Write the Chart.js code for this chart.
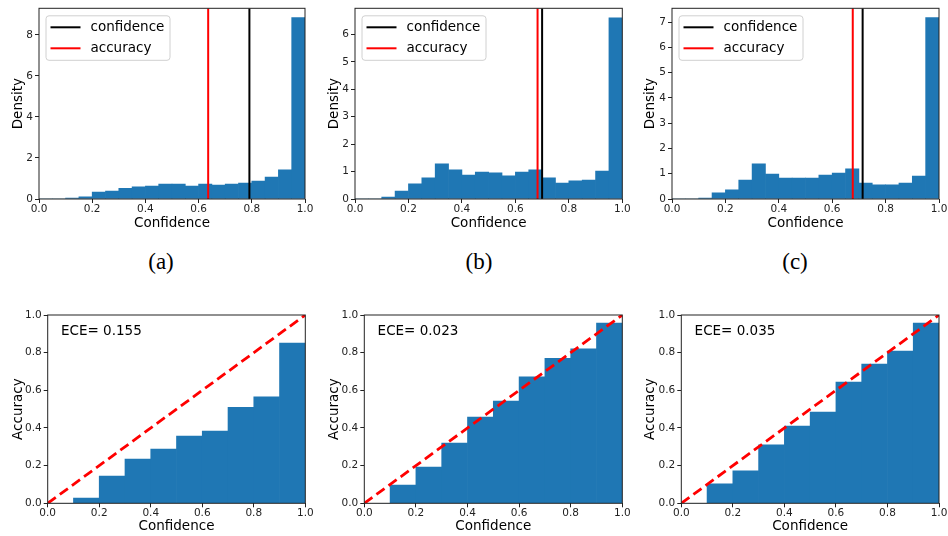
<!DOCTYPE html>
<html>
<head>
<meta charset="utf-8">
<script src="https://cdn.jsdelivr.net/npm/chart.js@4.4.1/dist/chart.umd.min.js"></script>
<style>
  body { margin: 0; background: #fff; width: 948px; height: 536px; position: relative; overflow: hidden; }
  canvas { position: absolute; }
  .cap { position: absolute; top: 249px; width: 60px; margin-left: -30px; text-align: center;
         font-family: "Liberation Serif", serif; font-size: 23px; line-height: 26px; color: #000; }
</style>
</head>
<body>
<canvas id="h0" width="316" height="240" style="left:0;top:0"></canvas>
<canvas id="h1" width="316" height="240" style="left:316px;top:0"></canvas>
<canvas id="h2" width="316" height="240" style="left:632px;top:0"></canvas>
<canvas id="r0" width="316" height="236" style="left:0;top:300px"></canvas>
<canvas id="r1" width="316" height="236" style="left:316px;top:300px"></canvas>
<canvas id="r2" width="316" height="236" style="left:632px;top:300px"></canvas>
<div class="cap" style="left:161px">(a)</div>
<div class="cap" style="left:479px">(b)</div>
<div class="cap" style="left:795px">(c)</div>
<script>
// histogram bins (width 0.05), given by their centres
const histCenters = [0.025, 0.075, 0.125, 0.175, 0.225, 0.275, 0.325, 0.375, 0.425, 0.475,
                     0.525, 0.575, 0.625, 0.675, 0.725, 0.775, 0.825, 0.875, 0.925, 0.975];
const densityA = [0, 0, 0.05, 0.1, 0.34, 0.39, 0.52, 0.59, 0.63, 0.73, 0.73, 0.63, 0.73, 0.68, 0.73, 0.78, 0.88, 1.07, 1.42, 8.85];
const densityB = [0, 0, 0.07, 0.29, 0.55, 0.77, 1.28, 1.06, 0.87, 0.98, 0.95, 0.84, 0.98, 1.06, 0.77, 0.58, 0.66, 0.69, 1.02, 6.6];
const densityC = [0, 0, 0.04, 0.24, 0.36, 0.75, 1.39, 0.99, 0.83, 0.83, 0.83, 0.95, 1.03, 1.19, 0.63, 0.56, 0.56, 0.63, 0.91, 7.18];
const meanConfidence = [0.791, 0.70, 0.714];
const meanAccuracy = [0.636, 0.683, 0.677];
const densityMax = [9.3, 6.95, 7.55];
const densityStep = [2, 1, 1];

// reliability bins (width 0.1)
const relCenters = [0.05, 0.15, 0.25, 0.35, 0.45, 0.55, 0.65, 0.75, 0.85, 0.95];
const accuracyA = [0, 0.028, 0.145, 0.235, 0.288, 0.357, 0.384, 0.51, 0.565, 0.851];
const accuracyB = [0, 0.097, 0.193, 0.32, 0.458, 0.543, 0.671, 0.77, 0.82, 0.957];
const accuracyC = [0, 0.103, 0.172, 0.31, 0.41, 0.485, 0.644, 0.74, 0.809, 0.957];
const eceValues = [0.155, 0.023, 0.035];
const diagonal = [0, 1];

const densities = [densityA, densityB, densityC];
const accuracies = [accuracyA, accuracyB, accuracyC];

const BAR = '#1f77b4';
const INK = '#222';
const FONT = '"DejaVu Sans", sans-serif';

// plot-area geometry per panel: y-axis width, right pad
const histLayout = [{ yw: 39, pr: 11 }, { yw: 39, pr: 9.7 }, { yw: 40, pr: 9 }];
const relLayout = [{ yw: 47.7, pr: 10.7 }, { yw: 48.3, pr: 9.7 }, { yw: 49.3, pr: 9 }];

// matplotlib-style box around the axes
const framePlugin = {
    id: 'frame',
    afterDatasetsDraw(chart) {
        const a = chart.chartArea, ctx = chart.ctx;
        ctx.save();
        ctx.strokeStyle = INK;
        ctx.lineWidth = 1;
        ctx.strokeRect(a.left, a.top, a.right - a.left, a.bottom - a.top);
        ctx.restore();
    }
};

// legend drawn inside the axes, upper left
const insideLegend = {
    id: 'insideLegend',
    afterDraw(chart) {
        const a = chart.chartArea, ctx = chart.ctx;
        const items = chart.data.datasets.filter(d => d.type === 'line');
        const x = a.left + 7, y = a.top + 7.5, w = 124, h = 44.5;
        ctx.save();
        ctx.beginPath();
        ctx.roundRect(x, y, w, h, 3);
        ctx.fillStyle = 'rgba(255,255,255,0.8)';
        ctx.fill();
        ctx.strokeStyle = '#d0d0d0';
        ctx.lineWidth = 1;
        ctx.stroke();
        ctx.font = '13.5px ' + FONT;
        ctx.textBaseline = 'middle';
        items.forEach((d, i) => {
            const ly = y + 11.5 + i * 21;
            ctx.strokeStyle = d.borderColor;
            ctx.lineWidth = 2;
            ctx.beginPath();
            ctx.moveTo(x + 4.5, ly);
            ctx.lineTo(x + 34.5, ly);
            ctx.stroke();
            ctx.fillStyle = '#000';
            ctx.fillText(d.label, x + 44.5, ly);
        });
        ctx.restore();
    }
};

const ecePlugin = {
    id: 'eceText',
    afterDraw(chart, args, opts) {
        const a = chart.chartArea, ctx = chart.ctx;
        ctx.save();
        ctx.font = '13.5px ' + FONT;
        ctx.fillStyle = '#000';
        ctx.textBaseline = 'alphabetic';
        ctx.fillText('ECE= ' + opts.value.toFixed(3), a.left + 13.3, a.top + 19.5);
        ctx.restore();
    }
};

function axisX(xh, titlePadBottom) {
    return {
        type: 'linear', min: 0, max: 1, offset: false,
        afterFit: s => { s.height = xh; },
        grid: { offset: false, drawOnChartArea: false, drawTicks: true, tickLength: 4, color: INK, lineWidth: 1 },
        border: { display: false },
        ticks: { stepSize: 0.2, padding: 0, color: INK, font: { family: FONT, size: 10.5 },
                 maxRotation: 0, callback: v => v.toFixed(1) },
        title: { display: true, text: 'Confidence', color: '#000',
                 font: { family: FONT, size: 13.5 }, padding: { top: 0, bottom: titlePadBottom } }
    };
}

function axisY(yw, max, step, text, fmt, titlePadTop) {
    return {
        type: 'linear', min: 0, max: max,
        afterFit: s => { s.width = yw; },
        grid: { drawOnChartArea: false, drawTicks: true, tickLength: 4, color: INK, lineWidth: 1 },
        border: { display: false },
        ticks: { stepSize: step, includeBounds: false, padding: 2, color: INK,
                 font: { family: FONT, size: 10.5 }, callback: fmt },
        title: { display: true, text: text, color: '#000',
                 font: { family: FONT, size: 13.5 }, padding: { top: titlePadTop, bottom: 0 } }
    };
}

// top row: confidence histograms
densities.forEach((dens, i) => {
    const L = histLayout[i];
    new Chart(document.getElementById('h' + i), {
        data: {
            datasets: [
                {
                    type: 'bar', label: 'hist', order: 3,
                    data: histCenters.map((c, k) => ({ x: c, y: dens[k] })),
                    backgroundColor: BAR, borderWidth: 0,
                    barPercentage: 1, categoryPercentage: 1
                },
                {
                    type: 'line', label: 'confidence', order: 1,
                    data: [{ x: meanConfidence[i], y: 0 }, { x: meanConfidence[i], y: densityMax[i] }],
                    borderColor: '#000', borderWidth: 2, pointRadius: 0
                },
                {
                    type: 'line', label: 'accuracy', order: 2,
                    data: [{ x: meanAccuracy[i], y: 0 }, { x: meanAccuracy[i], y: densityMax[i] }],
                    borderColor: '#ff0000', borderWidth: 2, pointRadius: 0
                }
            ]
        },
        options: {
            responsive: false, animation: false, events: [],
            layout: { padding: { left: 0, top: 8, right: L.pr, bottom: 0 } },
            plugins: { legend: { display: false }, tooltip: { enabled: false } },
            scales: {
                x: axisX(41, 8.5),
                y: axisY(L.yw, densityMax[i], densityStep[i], 'Density', v => String(v), 10.2)
            }
        },
        plugins: [framePlugin, insideLegend]
    });
});

// bottom row: reliability diagrams
accuracies.forEach((acc, i) => {
    const L = relLayout[i];
    new Chart(document.getElementById('r' + i), {
        data: {
            datasets: [
                {
                    type: 'bar', label: 'outputs', order: 2,
                    data: relCenters.map((c, k) => ({ x: c, y: acc[k] })),
                    backgroundColor: BAR, borderWidth: 0,
                    barPercentage: 1, categoryPercentage: 1
                },
                {
                    type: 'line', label: 'ideal', order: 1,
                    data: diagonal.map(v => ({ x: v, y: v })),
                    borderColor: '#ff0000', borderWidth: 2.8, borderDash: [10, 5],
                    pointRadius: 0
                }
            ]
        },
        options: {
            responsive: false, animation: false, events: [],
            layout: { padding: { left: 0, top: 15, right: L.pr, bottom: 0 } },
            plugins: { legend: { display: false }, tooltip: { enabled: false },
                       eceText: { value: eceValues[i] } },
            scales: {
                x: axisX(32.7, 1.4),
                y: axisY(L.yw, 1, 0.2, 'Accuracy', v => v.toFixed(1), 10.6)
            }
        },
        plugins: [framePlugin, ecePlugin]
    });
});
</script>
</body>
</html>
